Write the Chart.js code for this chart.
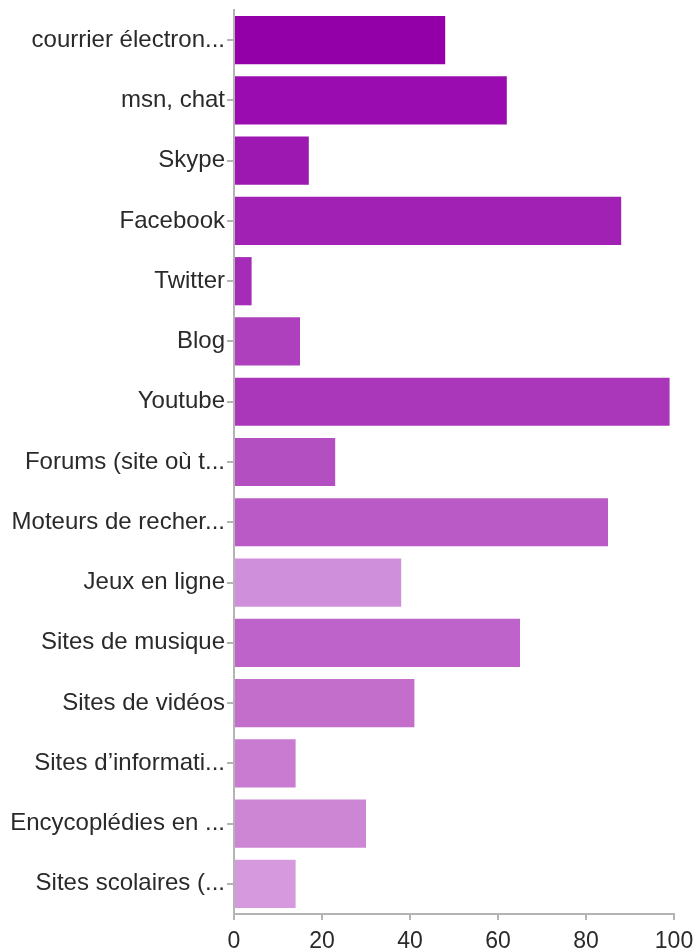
<!DOCTYPE html>
<html>
<head>
<meta charset="utf-8">
<script src="https://cdn.jsdelivr.net/npm/chart.js@4"></script>
<style>
    html, body { margin: 0; padding: 0; background: #fff; }
    #wrap { width: 698px; height: 949px; position: relative; }
</style>
</head>
<body>
<div id="wrap"><canvas id="usageChart"></canvas></div>
<script>
// Categories and values
const categories = [
    'courrier électron...', 'msn, chat', 'Skype', 'Facebook', 'Twitter',
    'Blog', 'Youtube', 'Forums (site où t...', 'Moteurs de recher...', 'Jeux en ligne',
    'Sites de musique', 'Sites de vidéos', 'Sites d\u2019informati...', 'Encycoplédies en ...', 'Sites scolaires (...'
];
const values = [48, 62, 17, 88, 4, 15, 99, 23, 85, 38, 65, 41, 14, 30, 14];
const xTicks = [0, 20, 40, 60, 80, 100];

// One purple per bar
const barColors = [
    '#9400a8', '#9a0caf', '#9c18b0', '#a021b3', '#a52cb6',
    '#ae40bd', '#aa36b9', '#b34fc0', '#b95ac7', '#d08fdb',
    '#bd63c9', '#c36eca', '#c97bd2', '#cc86d4', '#d699de'
];

document.addEventListener('DOMContentLoaded', function() {
    const axisGrey = '#b4b4b4';
    const textColor = '#2a2a2a';
    const labelFont = { family: '"Liberation Sans", Arial, sans-serif', size: 24 };
    const tickFont = { family: '"Liberation Sans", Arial, sans-serif', size: 23 };

    const ctx = document.getElementById('usageChart').getContext('2d');
    new Chart(ctx, {
        type: 'bar',
        data: {
            labels: categories,
            datasets: [{
                data: values,
                backgroundColor: barColors,
                borderWidth: 0,
                categoryPercentage: 0.8,
                barPercentage: 1.0
            }]
        },
        options: {
            indexAxis: 'y',
            responsive: true,
            maintainAspectRatio: false,
            animation: false,
            layout: { padding: { top: 10, right: 24, bottom: 0, left: 0 } },
            plugins: {
                legend: { display: false },
                tooltip: { enabled: false }
            },
            scales: {
                x: {
                    min: 0,
                    max: 100,
                    afterBuildTicks: function(scale) {
                        scale.ticks = xTicks.map(v => ({ value: v }));
                    },
                    afterFit: function(scale) {
                        // fixed height, and no extra room for the "100" overhang
                        scale.height = 35;
                        scale.paddingLeft = 0;
                        scale.paddingRight = 0;
                    },
                    grid: {
                        drawOnChartArea: false,
                        drawTicks: true,
                        tickLength: 6,
                        color: axisGrey,
                        lineWidth: 2
                    },
                    border: { display: true, color: axisGrey, width: 2 },
                    ticks: { color: textColor, font: tickFont, padding: 8, maxRotation: 0 }
                },
                y: {
                    afterFit: function(scale) {
                        scale.width = 234;
                        scale.paddingTop = 0;
                        scale.paddingBottom = 0;
                    },
                    grid: {
                        offset: false,
                        drawOnChartArea: false,
                        drawTicks: true,
                        tickLength: 7,
                        color: axisGrey,
                        lineWidth: 2
                    },
                    border: { display: true, color: axisGrey, width: 2 },
                    ticks: { color: textColor, font: labelFont, padding: 2, autoSkip: false }
                }
            }
        }
    });
});
</script>
</body>
</html>
